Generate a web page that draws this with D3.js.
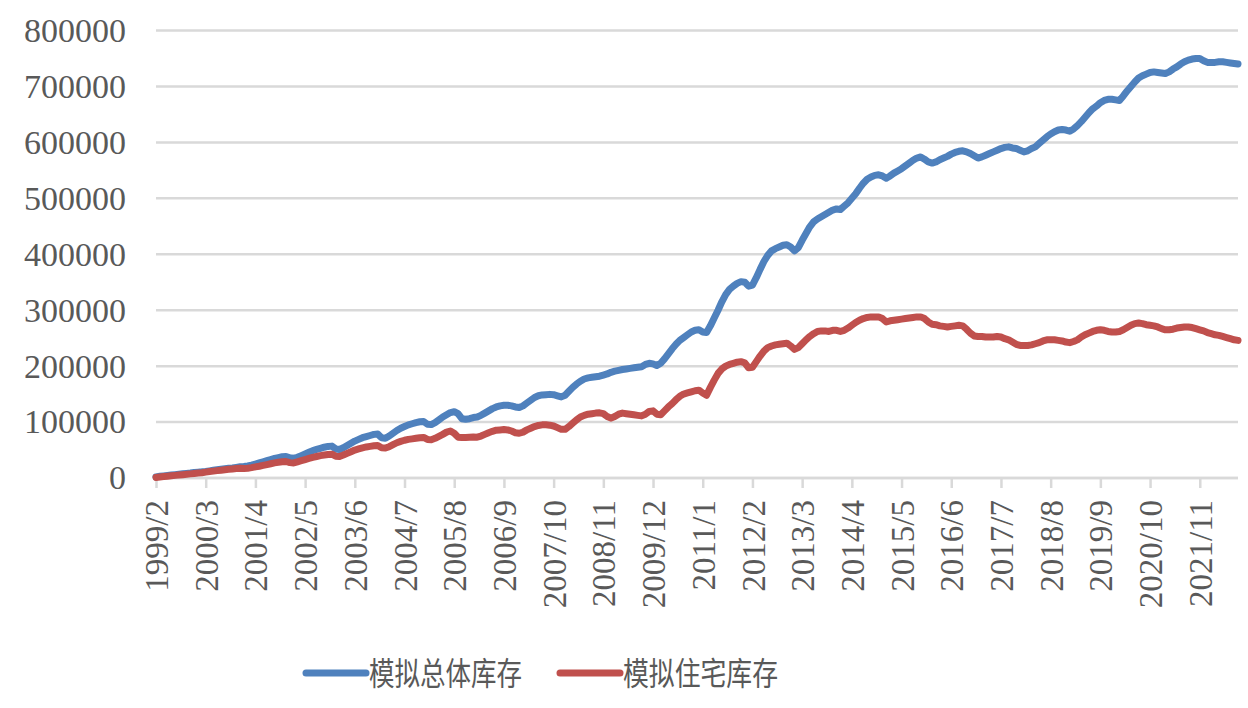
<!DOCTYPE html>
<html><head><meta charset="utf-8">
<script src="https://cdn.jsdelivr.net/npm/d3@7"></script>
<style>
html,body{margin:0;padding:0;background:#fff;}
svg{display:block;}
</style>
</head><body>
<svg id="chart" width="1248" height="708"></svg>
<script>
// ---- data ----
const startYear = 1999, startMonth = 2, monthCount = 284;
const categories = [];
for (let k = 0; k < monthCount; k++) {
  const m = startMonth - 1 + k;
  categories.push((startYear + Math.floor(m / 12)) + "/" + (m % 12 + 1));
}
const tickLabels = ["1999/2","2000/3","2001/4","2002/5","2003/6","2004/7","2005/8","2006/9","2007/10","2008/11","2009/12","2011/1","2012/2","2013/3","2014/4","2015/5","2016/6","2017/7","2018/8","2019/9","2020/10","2021/11"];
const yTicks = [0,100000,200000,300000,400000,500000,600000,700000,800000];
const seriesNames = ["模拟总体库存","模拟住宅库存"];
const seriesColors = ["#4f81bd","#c0504d"];

const totalInventory = [
 2000,3000,3800,4500,5300,6000,6800,7500,8200,9000,10000,
 10500,11000,11800,12800,13800,14800,15800,16500,17300,18000,19000,20000,
 20500,21500,23000,25000,27000,29000,31000,33000,35000,36500,38000,38500,
 36000,35500,37000,40000,43000,46000,49000,51000,53000,55000,56500,57000,
 52000,51000,54000,58000,62000,66000,69000,72000,74000,76000,78000,78500,
 72000,71000,75000,80000,85000,89000,92000,95000,97000,99000,100500,101000,
 96000,95500,99000,104000,109000,113000,117000,118500,115000,106000,105000,106000,
 108000,109000,112000,116000,120000,124000,127000,129000,130000,130000,129000,127000,
 126000,129000,134000,139000,144000,147000,148500,149000,149500,149000,147000,145000,
 148000,155000,162000,168000,173000,177000,179000,180000,181000,182000,184000,186000,
 189000,191000,192500,194000,195000,196000,197000,198000,199000,203000,205000,204000,
 201000,205000,213000,222000,231000,239000,246000,251000,256000,261000,264000,265000,
 261000,260000,272000,286000,300000,315000,328000,337000,343000,348000,351000,350000,
 343000,345000,358000,373000,387000,398000,406000,410000,413000,416000,417000,413000,
 406000,412000,425000,437000,449000,458000,463000,467000,471000,475000,479000,481000,
 480000,486000,492000,500000,508000,518000,527000,534000,538000,541000,542000,540000,
 536000,540000,545000,549000,553000,558000,563000,568000,572000,574000,570000,565000,
 563000,565000,569000,572000,575000,579000,582000,584000,585000,583000,580000,576000,
 572000,574000,577000,580000,583000,586000,589000,591000,592000,590000,589000,586000,
 583000,585000,589000,592000,598000,604000,610000,615000,619000,622000,623000,622000,
 620000,624000,630000,637000,645000,653000,660000,665000,671000,675000,677000,677000,
 676000,675000,683000,692000,700000,708000,715000,719000,722000,725000,726000,725000,
 724000,723000,726000,731000,735000,740000,744000,747000,749000,750000,750000,746000,
 743000,743000,743000,744000,744000,743000,742000,741000,740000
];
const residentialInventory = [
 1000,1800,2500,3200,4000,4700,5400,6000,6700,7400,8200,
 9000,9500,10500,11500,12300,13200,14000,14800,15500,16200,17000,17500,
 17000,17500,18500,19800,21000,22500,24000,25500,27000,28000,29000,29500,
 27500,27000,29000,31000,33000,35000,37000,38500,40000,41000,42000,42500,
 39000,38500,41000,44000,47000,50000,52000,54000,55500,56500,57500,58000,
 54000,53500,56000,59500,63000,65500,67500,69000,70000,71000,72000,72500,
 69000,68500,71000,74500,78000,82000,84000,80000,73000,72500,72500,73000,
 73500,73000,75000,78000,81000,83500,85500,86000,86500,86000,84000,81000,
 80000,82000,86000,89000,92000,94000,95000,95000,94500,93000,90000,87000,
 87000,92000,98000,104000,109000,112000,114000,115000,116000,116500,115000,110000,
 107000,110000,114000,116000,115000,114000,113000,112000,111000,114000,119000,120000,
 114000,113000,120000,127000,133000,140000,146000,150000,152000,154000,156000,157000,
 152000,148000,162000,175000,187000,195000,200000,203000,205000,207000,208000,206000,
 197000,198000,208000,218000,227000,233000,236000,238000,239000,240000,241000,236000,
 230000,233000,240000,247000,253000,258000,262000,263000,263000,262000,264000,264000,
 262000,264000,268000,273000,278000,282000,285000,287000,288000,288000,288000,285000,
 279000,281000,282000,283000,284000,285000,286000,287000,288000,288000,285000,279000,
 275000,274000,272000,271000,270000,271000,272000,273000,272000,266000,259000,254000,
 253000,253000,252000,252000,252000,253000,252000,249000,247000,243000,239000,237000,
 237000,237000,238000,240000,242000,245000,247000,247000,247000,246000,245000,243000,
 242000,244000,247000,252000,256000,259000,262000,264000,265000,264000,262000,261000,
 261000,262000,265000,269000,273000,276000,277000,276000,274000,273000,272000,270000,
 267000,265000,265000,266000,268000,269000,270000,270000,269000,267000,265000,263000,
 260000,258000,256000,255000,253000,251000,249000,247000,246000
];

// ---- chart ----
const svg = d3.select("#chart");
const plotLeft = 156, plotRight = 1238, plotTop = 30.5, plotBottom = 478;
const x = d3.scalePoint().domain(categories).range([plotLeft, plotRight]);
const y = d3.scaleLinear().domain([0, 800000]).range([plotBottom, plotTop]);
const gridColor = "#d9d9d9", textColor = "#595959";

// gridlines
svg.append("g").selectAll("line").data(yTicks).join("line")
  .attr("x1", plotLeft).attr("x2", plotRight)
  .attr("y1", d => y(d)).attr("y2", d => y(d))
  .attr("stroke", gridColor).attr("stroke-width", 2.5);

// y axis labels
const yAxis = d3.axisLeft(y).tickValues(yTicks).tickSize(0).tickPadding(30).tickFormat(d3.format("d"));
const gy = svg.append("g").attr("transform", `translate(${plotLeft},0)`).call(yAxis);
gy.select(".domain").remove();
gy.selectAll("text").attr("fill", textColor)
  .style("font-family", "'Liberation Serif','Times New Roman',serif").style("font-size", "34px");

// x axis
const xAxis = d3.axisBottom(x).tickValues(tickLabels).tickSize(10).tickPadding(0);
const gx = svg.append("g").attr("transform", `translate(0,${plotBottom})`).call(xAxis);
gx.select(".domain").attr("stroke", gridColor).attr("stroke-width", 2.5).attr("d", `M${plotLeft},0H${plotRight}`);
gx.selectAll(".tick line").attr("stroke", gridColor).attr("stroke-width", 2.5);
gx.selectAll("text")
  .attr("fill", textColor)
  .style("font-family", "'Liberation Serif','Times New Roman',serif").style("font-size", "33px")
  .attr("text-anchor", "end")
  .attr("transform", "rotate(-90)")
  .attr("x", -22).attr("y", 0).attr("dy", "0.35em");

// lines
const seriesData = [totalInventory, residentialInventory];
const line = d3.line().x((d, i) => x(categories[i])).y(d => y(d));
svg.append("g").selectAll("path").data(seriesData).join("path")
  .attr("d", d => line(d))
  .attr("fill", "none")
  .attr("stroke", (d, i) => seriesColors[i])
  .attr("stroke-width", 7)
  .attr("stroke-linejoin", "round")
  .attr("stroke-linecap", "round");

// legend
const legendItems = [
  {x0: 306, x1: 366, tx: 369, tw: 153},
  {x0: 560, x1: 620, tx: 623, tw: 155}
];
const lg = svg.append("g");
legendItems.forEach((it, i) => {
  lg.append("line").attr("x1", it.x0).attr("x2", it.x1).attr("y1", 673).attr("y2", 673)
    .attr("stroke", seriesColors[i]).attr("stroke-width", 7).attr("stroke-linecap", "round");
  lg.append("text").attr("x", it.tx).attr("y", 673).attr("dy", "0.37em")
    .attr("fill", textColor)
    .attr("textLength", it.tw).attr("lengthAdjust", "spacingAndGlyphs")
    .style("font-family", "'Noto Sans CJK SC',sans-serif").style("font-size", "32px")
    .text(seriesNames[i]);
});
</script>
</body></html>
